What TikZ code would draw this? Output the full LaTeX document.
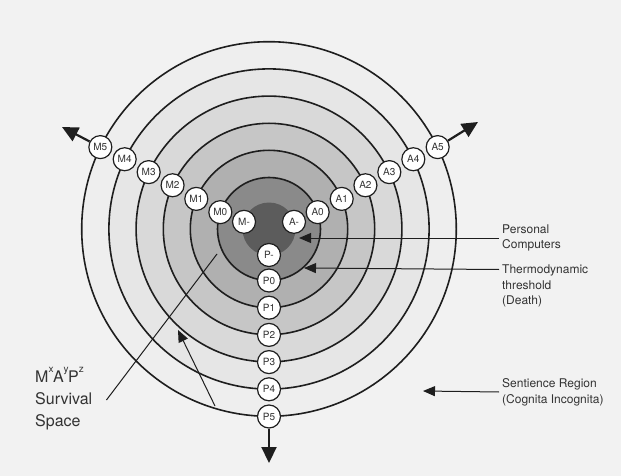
\documentclass[tikz,border=0pt]{standalone}
\usepackage{fontspec}
\setmainfont{TeX Gyre Heros}
\usetikzlibrary{arrows.meta}
\definecolor{bgc}{HTML}{F2F2F2}
\definecolor{rfive}{HTML}{EEEEEE}
\definecolor{rfour}{HTML}{E6E6E6}
\definecolor{rthree}{HTML}{D9D9D9}
\definecolor{rtwo}{HTML}{C6C6C6}
\definecolor{rone}{HTML}{B0B0B0}
\definecolor{rzero}{HTML}{8A8A8A}
\definecolor{blobc}{HTML}{5C5C5C}
\definecolor{inkc}{HTML}{1E1E1E}
\definecolor{txtc}{HTML}{333333}
\begin{document}
\begin{tikzpicture}[x=1pt,y=-1pt,
  ring/.style={draw=inkc, line width=1.6pt},
  lab/.style={circle, draw=inkc, line width=1.2pt, fill=white, minimum size=23pt, inner sep=0pt, text=txtc, font=\fontsize{10}{10}\selectfont},
  note/.style={font=\fontsize{12}{15.8}\selectfont, align=left, anchor=west, inner sep=0pt, text=txtc},
  bignote/.style={font=\fontsize{16}{22}\selectfont, align=left, anchor=west, inner sep=0pt, text=txtc},
  ptr/.style={draw=inkc, line width=1pt},
  ptrhead/.style={ptr, -{Triangle[length=12pt,width=10pt]}},
  bigarrow/.style={draw=inkc, line width=2.2pt, -{Triangle[length=16pt,width=15pt]}},
]
\useasboundingbox (0,0) rectangle (621,476);
\fill[bgc] (0,0) rectangle (621,476);
\coordinate (C) at (269,229);
% rings
\foreach \r/\c in {187.3/rfive, 160.1/rfour, 132.9/rthree, 105.7/rtwo, 78.7/rone, 51.5/rzero}
  \filldraw[ring, fill=\c] (C) circle (\r);
\fill[blobc] (C) circle (26.5);
% annotation texts
\node[note] (pc) at (502,238) {Personal\\Computers};
\node[note] (th) at (502,286) {Thermodynamic\\threshold\\(Death)};
\node[note] (sn) at (502,392) {Sentience Region\\(Cognita Incognita)};
\node[bignote] (ss) at (35,399) {M\raisebox{0.62em}{\fontsize{10}{10}\selectfont x}\kern-0.5pt A\raisebox{0.62em}{\fontsize{10}{10}\selectfont y}\kern-0.5pt P\raisebox{0.62em}{\fontsize{10}{10}\selectfont z}\\Survival\\Space};
\coordinate (pctip) at (299,238);
\coordinate (thtip) at (304,268);
\coordinate (sntip) at (423,391);
\coordinate (sa) at (217,254);
\coordinate (sb1) at (215,406);
\coordinate (sb2) at (178,330);
\draw[ptrhead] ([xshift=-3pt]pc.west) -- (pctip);
\draw[ptrhead] ([shift={(-3,-16.5)}]th.west) -- (thtip);
\draw[ptrhead] ([xshift=-3pt]sn.west) -- (sntip);
\draw[ptr] (ss.east) ++(14,1) -- (sa);
\draw[ptrhead] (sb1) -- (sb2);
% nodes
\path (C) ++(-164:26) node[lab] (Mm) {M-};
\path (C) ++(-16:26) node[lab] (Am) {A-};
\path (C) ++(90:26) node[lab] (Pm) {P-};
\foreach \k/\t in {0/160.9, 1/157.5, 2/155.6, 3/154.7, 4/154.2, 5/154.1}{
  \pgfmathsetmacro{\rr}{51.5+27.2*\k}
  \path (C) ++(-\t:\rr) node[lab] (M\k) {M\k};
  \path (C) ++(\t-180:\rr) node[lab] (A\k) {A\k};
  \path (C) ++(90:\rr) node[lab] (P\k) {P\k};
}
% outward arrows
\coordinate (mt) at (62,127);
\coordinate (at) at (478,122);
\coordinate (pt) at (269,463);
\draw[bigarrow] (M5) -- (mt);
\draw[bigarrow] (A5) -- (at);
\draw[bigarrow] (P5) -- (pt);
\end{tikzpicture}
\end{document}
